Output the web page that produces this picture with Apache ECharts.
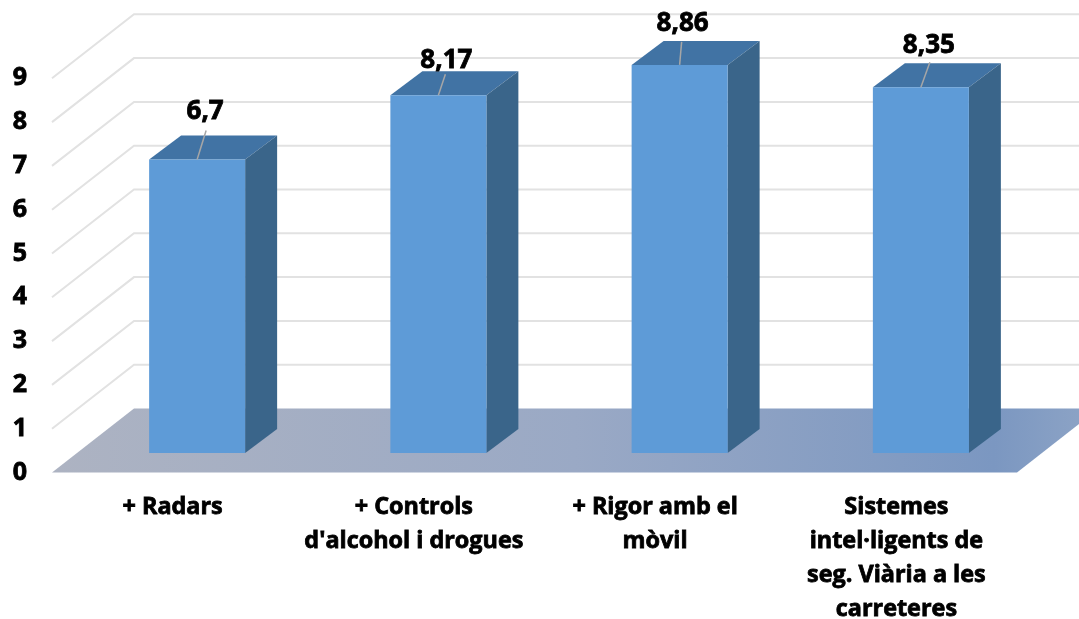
<!DOCTYPE html>
<html><head><meta charset="utf-8">
<style>html,body{margin:0;padding:0;background:#fff}#c{width:1079px;height:619px}</style>
<script src="https://cdn.jsdelivr.net/npm/echarts@6/dist/echarts.min.js"></script>
</head><body><div id="c"></div>
<script>
const categories = ['+ Radars', "+ Controls\nd'alcohol i drogues", '+ Rigor amb el\nmòvil', 'Sistemes\nintel·ligents de\nseg. Viària a les\ncarreteres'];
const values = [6.7, 8.17, 8.86, 8.35];
const valueLabels = ['6,7', '8,17', '8,86', '8,35'];
const ticks = [0, 1, 2, 3, 4, 5, 6, 7, 8, 9];
const labelDx = [8, 8, 3, 8];
const labelDy = [-48, -35, -41, -42];
const leaderEndDx = [9, 7, 2, 9];
const leaderEndDy = [-29, -21, -23, -25];

const FONT = '"Open Sans", sans-serif';
const WALL_DX = 82, WALL_DY = -64;
const BAR_SHIFT = 24.5, BAR_LIFT = -19.5, BAR_HALF = 48, BAR_DX = 32, BAR_DY = -24;

const chart = echarts.init(document.getElementById('c'), null, {renderer: 'canvas'});
chart.setOption({
  animation: false,
  backgroundColor: '#fff',
  grid: {left: 52, right: 62, top: 78.3, bottom: 146.5, containLabel: false, outerBoundsMode: 'none'},
  xAxis: {
    type: 'category', data: categories,
    axisLine: {show: false}, axisTick: {show: false}, splitLine: {show: false},
    axisLabel: {color: '#000', fontFamily: FONT, fontWeight: 'bold', fontSize: 23.4, lineHeight: 34, margin: 18, interval: 0, hideOverlap: false,
      textBorderColor: '#000', textBorderWidth: 0.8}
  },
  yAxis: {
    type: 'value', min: 0, max: 9, interval: 1,
    axisLine: {show: false}, axisTick: {show: false}, splitLine: {show: false},
    axisLabel: {color: '#000', fontFamily: FONT, fontWeight: 'bold', fontSize: 25, margin: 25,
      textBorderColor: '#000', textBorderWidth: 0.8}
  },
  series: [
    { // walls
      type: 'custom', coordinateSystem: 'cartesian2d', silent: true, z: 1,
      data: ticks.slice(1).map(t => [0, t]),
      encode: {x: 0, y: 1},
      renderItem(params, api) {
        const cs = params.coordSys;
        const y = api.coord([0, api.value(1)])[1];
        return {type: 'polyline', shape: {points: [[cs.x, y], [cs.x + WALL_DX, y + WALL_DY], [cs.x + cs.width + WALL_DX, y + WALL_DY]]},
          style: {stroke: '#e2e2e2', lineWidth: 2, fill: null}};
      }
    },
    { // floor
      type: 'custom', coordinateSystem: 'cartesian2d', silent: true, z: 2,
      data: [[0, ticks[0]]],
      encode: {x: 0, y: 1},
      renderItem(params, api) {
        const cs = params.coordSys;
        const y = api.coord([0, api.value(1)])[1];
        return {type: 'polygon', shape: {points: [[cs.x, y], [cs.x + WALL_DX, y + WALL_DY], [cs.x + cs.width + WALL_DX, y + WALL_DY], [cs.x + cs.width, y]]},
          style: {fill: new echarts.graphic.LinearGradient(0, 0, 1, 0, [
            {offset: 0, color: '#adb3c2'}, {offset: 0.5, color: '#9aa9c5'}, {offset: 0.9, color: '#7b97c1'}, {offset: 1, color: '#8fa5c6'}
          ])}};
      }
    },
    { // bars
      type: 'custom', coordinateSystem: 'cartesian2d', silent: true, z: 3,
      data: values.map((v, i) => [i, v]),
      encode: {x: 0, y: 1},
      renderItem(params, api) {
        const i = api.value(0);
        const top = api.coord([i, api.value(1)]);
        const base = api.coord([i, 0]);
        const xl = top[0] + BAR_SHIFT - BAR_HALF, xr = top[0] + BAR_SHIFT + BAR_HALF;
        const yt = top[1] + BAR_LIFT, yb = base[1] + BAR_LIFT;
        const xc = top[0] + BAR_SHIFT;
        const children = [
          {type: 'polygon', shape: {points: [[xl, yt], [xl + BAR_DX, yt + BAR_DY], [xr + BAR_DX, yt + BAR_DY], [xr, yt]]}, style: {fill: '#4173a4'}},
          {type: 'polygon', shape: {points: [[xr, yt], [xr + BAR_DX, yt + BAR_DY], [xr + BAR_DX, yb + BAR_DY], [xr, yb]]}, style: {fill: '#3a658a'}},
          {type: 'rect', shape: {x: xl, y: yt, width: xr - xl, height: yb - yt}, style: {fill: '#5e9bd7'}},
          {type: 'line', shape: {x1: xc, y1: yt, x2: xc + leaderEndDx[i], y2: yt + leaderEndDy[i]}, style: {stroke: '#a6a6a6', lineWidth: 1.5}},
          {type: 'text', style: {x: xc + labelDx[i], y: yt + labelDy[i], text: valueLabels[i], fill: '#000', font: 'bold 26px ' + FONT, align: 'center', verticalAlign: 'middle', stroke: '#000', lineWidth: 0.8}}
        ];
        return {type: 'group', children};
      }
    }
  ]
});
</script></body></html>
